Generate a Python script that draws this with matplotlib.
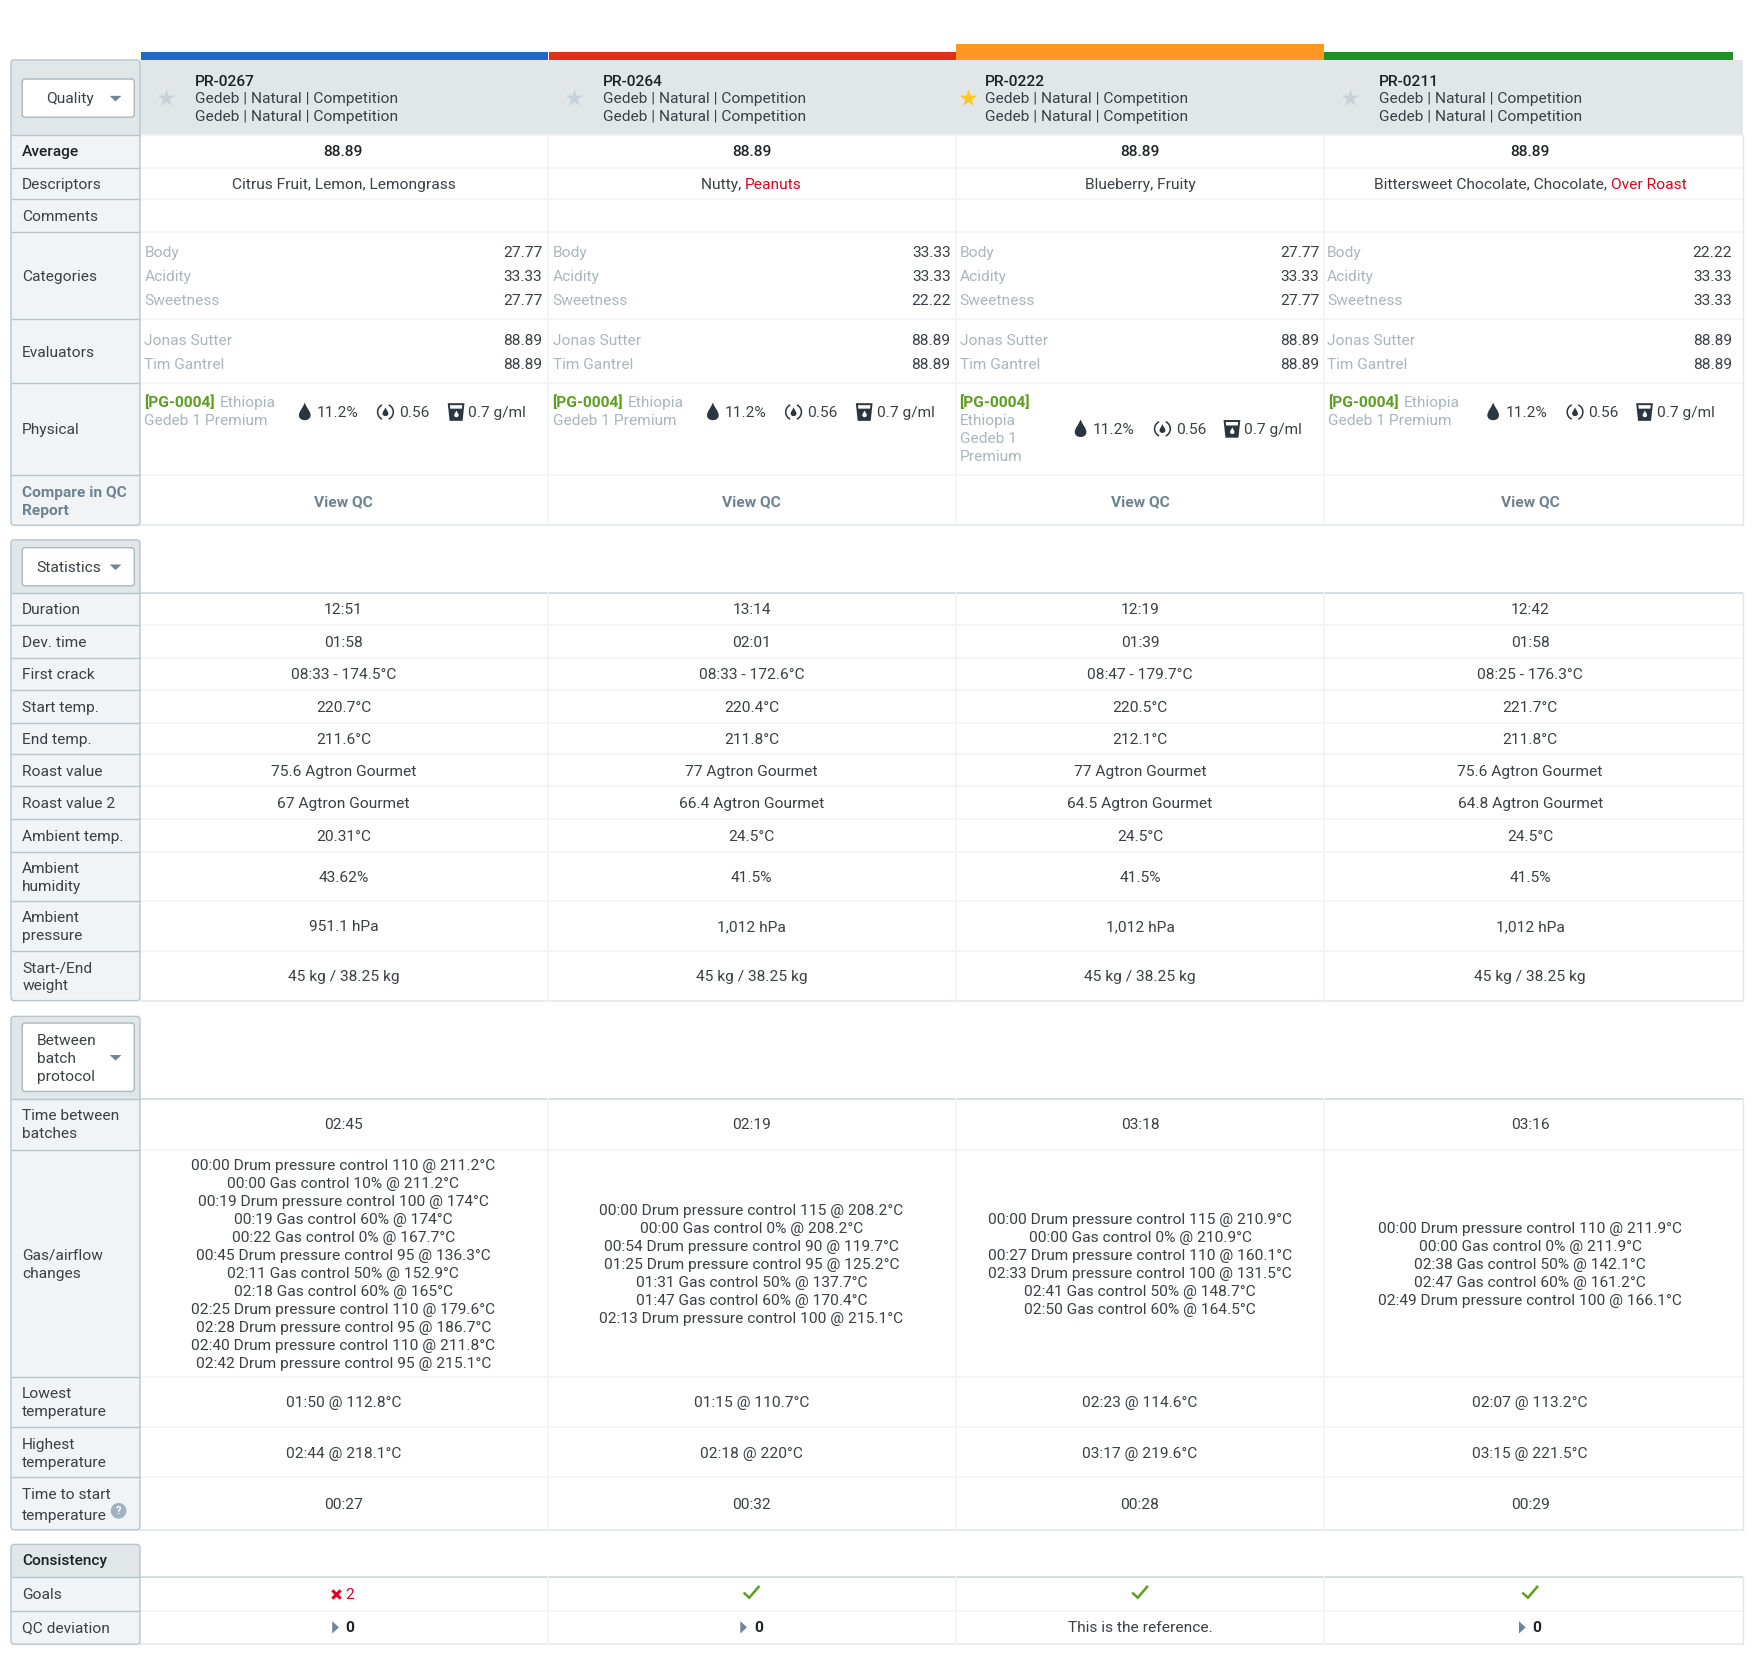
import matplotlib
matplotlib.use("Agg")
import matplotlib.pyplot as plt
from matplotlib.patches import FancyBboxPatch, Rectangle, Circle, PathPatch, Polygon, Arc
from matplotlib.path import Path

plt.rcParams["font.family"] = ["Roboto", "DejaVu Sans"]

DARK = "#3a4045"
BLACK = "#1c2226"
GREY = "#a9b6bd"
SLATE = "#6d8391"
GREEN = "#5c9f1e"
RED = "#e2001a"
PANEL = "#f0f4f6"
HEAD = "#e1e6e9"
EDGE = "#b8c5cc"
GRID = "#f0f3f4"
RULE = "#cbd5da"
FS = 11.15

# column layout, in the coordinates of a 1568 wide canvas
col_left = [126, 490, 853, 1181]
col_right = [489, 853, 1181, 1555]
col_mid = [306.5, 670.5, 1017, 1365]
val_right = [484, 848, 1177, 1545]
bar_colors = ["#2268c6", "#e0301a", "#ff9822", "#1f9129"]
bar_right = [489, 853, 1181, 1546]

roasts = ["PR-0267", "PR-0264", "PR-0222", "PR-0211"]
stars = [False, False, True, False]
head_x = [174, 538, 879, 1230]
star_x = [148, 512, 864, 1204]
origin = "Gedeb | Natural | Competition"

average = ["88.89", "88.89", "88.89", "88.89"]
descriptors = [
    [("Citrus Fruit, Lemon, Lemongrass", DARK)],
    [("Nutty, ", DARK), ("Peanuts", RED)],
    [("Blueberry, Fruity", DARK)],
    [("Bittersweet Chocolate, Chocolate, ", DARK), ("Over Roast", RED)],
]
category_names = ["Body", "Acidity", "Sweetness"]
category_values = [
    ["27.77", "33.33", "27.77"],
    ["33.33", "33.33", "22.22"],
    ["27.77", "33.33", "27.77"],
    ["22.22", "33.33", "33.33"],
]
evaluator_names = ["Jonas Sutter", "Tim Gantrel"]
evaluator_values = ["88.89", "88.89"]

moisture = "11.2%"
water_activity = "0.56"
density = "0.7 g/ml"

stat_rows = [
    ["Duration"], ["Dev. time"], ["First crack"], ["Start temp."], ["End temp."],
    ["Roast value"], ["Roast value 2"], ["Ambient temp."],
    ["Ambient", "humidity"], ["Ambient", "pressure"], ["Start-/End", "weight"],
]
stat_values = [
    ["12:51", "13:14", "12:19", "12:42"],
    ["01:58", "02:01", "01:39", "01:58"],
    ["08:33 - 174.5°C", "08:33 - 172.6°C", "08:47 - 179.7°C", "08:25 - 176.3°C"],
    ["220.7°C", "220.4°C", "220.5°C", "221.7°C"],
    ["211.6°C", "211.8°C", "212.1°C", "211.8°C"],
    ["75.6 Agtron Gourmet", "77 Agtron Gourmet", "77 Agtron Gourmet", "75.6 Agtron Gourmet"],
    ["67 Agtron Gourmet", "66.4 Agtron Gourmet", "64.5 Agtron Gourmet", "64.8 Agtron Gourmet"],
    ["20.31°C", "24.5°C", "24.5°C", "24.5°C"],
    ["43.62%", "41.5%", "41.5%", "41.5%"],
    ["951.1 hPa", "1,012 hPa", "1,012 hPa", "1,012 hPa"],
    ["45 kg / 38.25 kg", "45 kg / 38.25 kg", "45 kg / 38.25 kg", "45 kg / 38.25 kg"],
]
stat_edges = [529, 558, 587, 616, 645, 673, 702, 731, 760, 804, 849, 893]

between_time = ["02:45", "02:19", "03:18", "03:16"]
gas_changes = [
    ["00:00 Drum pressure control 110 @ 211.2°C", "00:00 Gas control 10% @ 211.2°C",
     "00:19 Drum pressure control 100 @ 174°C", "00:19 Gas control 60% @ 174°C",
     "00:22 Gas control 0% @ 167.7°C", "00:45 Drum pressure control 95 @ 136.3°C",
     "02:11 Gas control 50% @ 152.9°C", "02:18 Gas control 60% @ 165°C",
     "02:25 Drum pressure control 110 @ 179.6°C", "02:28 Drum pressure control 95 @ 186.7°C",
     "02:40 Drum pressure control 110 @ 211.8°C", "02:42 Drum pressure control 95 @ 215.1°C"],
    ["00:00 Drum pressure control 115 @ 208.2°C", "00:00 Gas control 0% @ 208.2°C",
     "00:54 Drum pressure control 90 @ 119.7°C", "01:25 Drum pressure control 95 @ 125.2°C",
     "01:31 Gas control 50% @ 137.7°C", "01:47 Gas control 60% @ 170.4°C",
     "02:13 Drum pressure control 100 @ 215.1°C"],
    ["00:00 Drum pressure control 115 @ 210.9°C", "00:00 Gas control 0% @ 210.9°C",
     "00:27 Drum pressure control 110 @ 160.1°C", "02:33 Drum pressure control 100 @ 131.5°C",
     "02:41 Gas control 50% @ 148.7°C", "02:50 Gas control 60% @ 164.5°C"],
    ["00:00 Drum pressure control 110 @ 211.9°C", "00:00 Gas control 0% @ 211.9°C",
     "02:38 Gas control 50% @ 142.1°C", "02:47 Gas control 60% @ 161.2°C",
     "02:49 Drum pressure control 100 @ 166.1°C"],
]
lowest = ["01:50 @ 112.8°C", "01:15 @ 110.7°C", "02:23 @ 114.6°C", "02:07 @ 113.2°C"]
highest = ["02:44 @ 218.1°C", "02:18 @ 220°C", "03:17 @ 219.6°C", "03:15 @ 221.5°C"]
start_time = ["00:27", "00:32", "00:28", "00:29"]
goals_failed = [2, 0, 0, 0]
qc_deviation = ["0", "0", None, "0"]

fig = plt.figure(figsize=(17.58, 16.60), dpi=100)
ax = fig.add_axes([0, 0, 1, 1])
ax.set_xlim(0.2, 1568.2)
ax.set_ylim(1481.1, 0.5)
ax.axis("off")


def label(x, y, s, color=DARK, ha="left", weight="normal", size=FS):
    # y is the visual middle of the line, baseline sits just under 5 px lower
    return ax.text(x, y + 4.8, s, color=color, ha=ha, va="baseline", fontweight=weight, fontsize=size)


def centered_runs(x, y, runs):
    # mixed colour text, measure first so the whole run can be centred
    renderer = fig.canvas.get_renderer()
    inv = ax.transData.inverted()
    items = [label(0, y, s, color=c) for s, c in runs]
    widths = []
    for t, (s, c) in zip(items, runs):
        # trailing spaces are not measured, use a stand-in
        t.set_text(s.replace(" ", "\u00a0"))
        bb = t.get_window_extent(renderer)
        widths.append(inv.transform((bb.x1, 0))[0] - inv.transform((bb.x0, 0))[0])
    pos = x - sum(widths) / 2
    for t, w in zip(items, widths):
        t.set_x(pos)
        pos += w


def block(top, head_bottom, bottom, edges, full_head=False):
    ax.add_patch(Rectangle((126, head_bottom), 1429, bottom - head_bottom, fc="white", ec="none", zorder=0))
    if full_head:
        ax.add_patch(Rectangle((125, top), 1430, head_bottom - top, fc=HEAD, ec="none", zorder=1))
    # left panel
    ax.add_patch(FancyBboxPatch((10, top), 115, bottom - top, boxstyle="round,pad=0,rounding_size=3",
                                fc=PANEL, ec="none", zorder=1))
    ax.add_patch(FancyBboxPatch((10, top), 115, head_bottom - top + 3, boxstyle="round,pad=0,rounding_size=3",
                                fc=HEAD, ec="none", zorder=1.1))
    ax.add_patch(Rectangle((10, head_bottom), 115, 4, fc=PANEL, ec="none", zorder=1.2))
    ax.add_patch(FancyBboxPatch((10, top), 115, bottom - top, boxstyle="round,pad=0,rounding_size=3",
                                fc="none", ec=EDGE, lw=1.0, zorder=3))
    for n, y in enumerate(edges):
        ax.plot([10, 125], [y, y], color=EDGE, lw=1.0, zorder=3, solid_capstyle="butt")
        # the first rule under a header is a bit stronger, except under the coloured one
        strong = n == 0 and not full_head
        ax.plot([125, 1555], [y, y], color=RULE if strong else GRID, lw=1.1, zorder=2, solid_capstyle="butt")
    ax.plot([125, 1555], [bottom, bottom], color="#e2e7ea", lw=1.1, zorder=2)
    ax.plot([1555, 1555], [head_bottom, bottom], color="#e2e7ea", lw=1.0, zorder=2)
    for x in col_right[:3]:
        ax.plot([x, x], [head_bottom, bottom], color=GRID, lw=1.3, zorder=2)


def dropdown(y0, y1, lines, text_x):
    ax.add_patch(FancyBboxPatch((20, y0), 100, y1 - y0, boxstyle="round,pad=0,rounding_size=2.5",
                                fc="white", ec="#a9b9c2", lw=1.0, zorder=4))
    mid = (y0 + y1) / 2
    top_line = mid - 8 * (len(lines) - 1)
    for i, s in enumerate(lines):
        t = label(text_x, top_line + 16 * i, s)
        t.set_zorder(5)
    ax.add_patch(Polygon([(98, mid - 2), (108.5, mid - 2), (103.25, mid + 3)], closed=True,
                         fc="#6e8697", ec="none", zorder=5))


def drop_icon(x, y, r=5.2, color="#2b3640", zo=5):
    verts = [(x, y - 1.6 * r), (x + 0.35 * r, y - 0.7 * r), (x + r, y - 0.1 * r), (x + r, y + 0.55 * r),
             (x + r, y + 1.1 * r), (x + 0.55 * r, y + 1.4 * r), (x, y + 1.4 * r),
             (x - 0.55 * r, y + 1.4 * r), (x - r, y + 1.1 * r), (x - r, y + 0.55 * r),
             (x - r, y - 0.1 * r), (x - 0.35 * r, y - 0.7 * r), (x, y - 1.6 * r)]
    codes = [Path.MOVETO] + [Path.CURVE4] * 12
    ax.add_patch(PathPatch(Path(verts, codes), fc=color, ec="none", zorder=zo))


def ring_icon(x, y):
    drop_icon(x, y, r=2.6)
    ax.add_patch(Arc((x, y), 14, 14, theta1=115, theta2=245, color="#2b3640", lw=1.1, zorder=5))
    ax.add_patch(Arc((x, y), 14, 14, theta1=-65, theta2=65, color="#2b3640", lw=1.1, zorder=5))


def cup_icon(x, y):
    # outline with a white rim, dark liquid and a light drop in it
    ax.add_patch(Polygon([(x - 6.5, y - 7), (x + 6.5, y - 7), (x + 5, y + 7), (x - 5, y + 7)], closed=True,
                         fc="white", ec="#2b3640", lw=1.4, zorder=5))
    ax.add_patch(Polygon([(x - 5.8, y - 3), (x + 5.8, y - 3), (x + 5, y + 7), (x - 5, y + 7)], closed=True,
                         fc="#2b3640", ec="none", zorder=5))
    drop_icon(x + 0.3, y + 1.8, r=2.0, color="white", zo=6)


# colour strip on top of the columns
for i in range(4):
    top = 40 if i == 2 else 47
    ax.add_patch(Rectangle((col_left[i] if i else 126, top), bar_right[i] - (col_left[i] if i else 126), 54 - top,
                           fc=bar_colors[i], ec="none", zorder=2))

# ---- quality block
q_edges = [121, 150, 178, 207, 285, 342, 424]
block(54, 121, 469, q_edges, full_head=True)
dropdown(71, 105, ["Quality"], 41)
q_labels = [(135, ["Average"]), (164, ["Descriptors"]), (193, ["Comments"]), (246.5, ["Categories"]),
            (314, ["Evaluators"]), (383, ["Physical"])]
for y, lines in q_labels:
    label(20, y, lines[0], weight="medium" if lines[0] == "Average" else "normal",
          color=BLACK if lines[0] == "Average" else DARK)
label(20, 439, "Compare in QC", color=SLATE, weight="bold")
label(20, 455, "Report", color=SLATE, weight="bold")

for i in range(4):
    ax.scatter([star_x[i]], [88], marker="*", s=175, linewidths=0, zorder=4,
               color="#ffc520" if stars[i] else "#c6d2d8")
    label(head_x[i], 72, roasts[i], color=BLACK, weight="medium")
    label(head_x[i], 88, origin)
    label(head_x[i], 104, origin)
    label(col_mid[i], 135, average[i], color=BLACK, ha="center", weight="medium")
    centered_runs(col_mid[i], 164, descriptors[i])
    for k, y in enumerate([225, 246.5, 268]):
        label(col_left[i] + 3, y, category_names[k], color=GREY)
        label(val_right[i], y, category_values[i][k], ha="right")
    for k, y in enumerate([303, 325]):
        label(col_left[i] + 3, y, evaluator_names[k], color=GREY)
        label(val_right[i], y, evaluator_values[k], ha="right")
    label(col_mid[i], 447, "View QC", color=SLATE, ha="center", weight="bold")

# physical cells, third one is narrower so the text wraps
icon_off = [(146, 157, 218, 230, 281, 292, 368), (146, 157, 218, 230, 281, 292, 368),
            (111, 122, 184, 196, 246, 257, 383), (151, 162, 224, 236, 286, 297, 368)]
for i in range(4):
    x0 = col_left[i] + 3 + (1 if i == 3 else 0)
    if i == 2:
        label(x0, 359, "[PG-0004]", color=GREEN, weight="bold")
        label(x0, 375, "Ethiopia", color=GREY)
        label(x0, 391, "Gedeb 1", color=GREY)
        label(x0, 407, "Premium", color=GREY)
    else:
        label(x0, 359, "[PG-0004]", color=GREEN, weight="bold")
        label(x0 + 67, 359, "Ethiopia", color=GREY)
        label(x0, 375, "Gedeb 1 Premium", color=GREY)
    d, dt, r, rt, c, ct, y = icon_off[i]
    x = col_left[i]
    drop_icon(x + d, y)
    label(x + dt, y, moisture)
    ring_icon(x + r, y)
    label(x + rt, y, water_activity)
    cup_icon(x + c, y)
    label(x + ct, y, density)

# ---- statistics block
block(482, 529, 893, stat_edges[:-1])
dropdown(489, 523, ["Statistics"], 33)
for r, lines in enumerate(stat_rows):
    mid = (stat_edges[r] + stat_edges[r + 1]) / 2
    for k, s in enumerate(lines):
        label(20, mid - 8 * (len(lines) - 1) + 16 * k, s)
    for i in range(4):
        label(col_mid[i], mid, stat_values[r][i], ha="center")

# ---- between batch block
b_edges = [981, 1026, 1229, 1273, 1318]
block(907, 981, 1365, b_edges)
dropdown(913, 974, ["Between", "batch", "protocol"], 33)
b_labels = [(1003, ["Time between", "batches"]), (1127.5, ["Gas/airflow", "changes"]),
            (1251, ["Lowest", "temperature"]), (1296, ["Highest", "temperature"]),
            (1342, ["Time to start", "temperature"])]
for mid, lines in b_labels:
    for k, s in enumerate(lines):
        label(20, mid - 8 + (18 if mid == 1342 else 16) * k - (1 if mid == 1342 else 0), s)
ax.add_patch(Circle((106, 1348), 7, fc="#9fb3be", ec="none", zorder=5))
ax.text(106, 1348.5, "?", color="white", ha="center", va="center", fontsize=8, fontweight="bold", zorder=6)
for i in range(4):
    label(col_mid[i], 1003, between_time[i], ha="center")
    n = len(gas_changes[i])
    for k, s in enumerate(gas_changes[i]):
        label(col_mid[i], 1127.5 - 8 * (n - 1) + 16 * k, s, ha="center")
    label(col_mid[i], 1251, lowest[i], ha="center")
    label(col_mid[i], 1296, highest[i], ha="center")
    label(col_mid[i], 1342, start_time[i], ha="center")

# ---- consistency block
block(1378, 1407, 1467, [1407, 1437])
label(20, 1392, "Consistency", color=BLACK, weight="medium")
label(20, 1422, "Goals")
label(20, 1451.5, "QC deviation")
for i in range(4):
    if goals_failed[i]:
        ax.scatter([col_mid[i] - 6.5], [1422.5], marker="x", s=36, color=RED, linewidths=2.2, zorder=5)
        label(col_mid[i] + 1.5, 1422, str(goals_failed[i]), color=RED)
    else:
        mx = col_mid[i]
        ax.plot([mx - 7, mx - 2, mx + 7], [1421, 1425.5, 1415], color=GREEN, lw=1.8, zorder=5,
                solid_capstyle="butt", solid_joinstyle="miter")
    if qc_deviation[i] is None:
        label(col_mid[i], 1451.5, "This is the reference.", ha="center")
    else:
        ax.add_patch(Polygon([(col_mid[i] - 10, 1446.5), (col_mid[i] - 10, 1457.5), (col_mid[i] - 4, 1452)],
                             closed=True, fc="#6e8697", ec="none", zorder=5))
        label(col_mid[i] + 2, 1451.5, qc_deviation[i], color=BLACK, weight="bold")

fig.savefig("out.png", dpi=100)
